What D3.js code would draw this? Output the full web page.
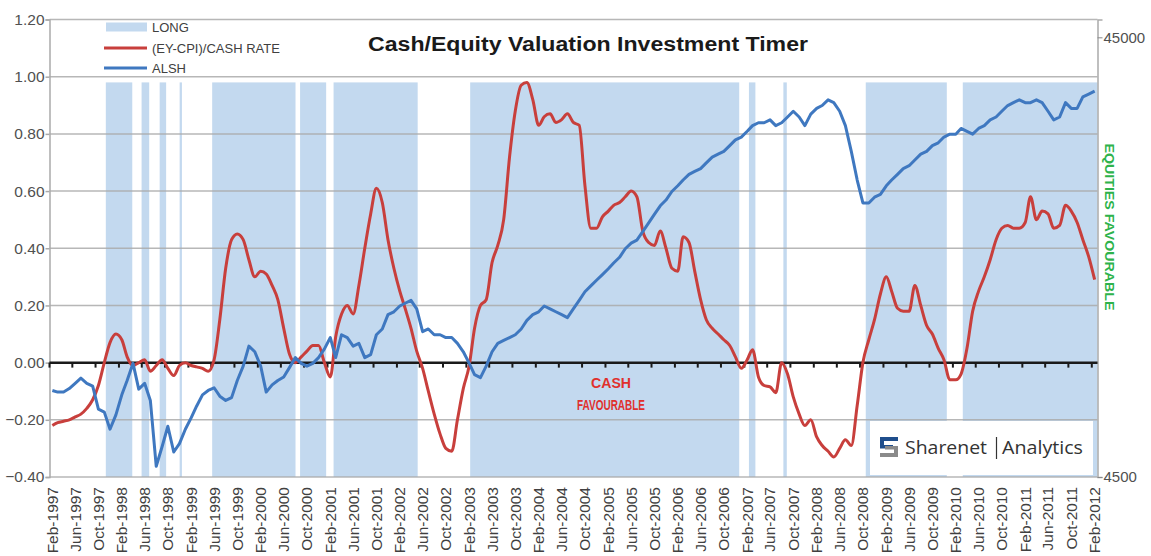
<!DOCTYPE html>
<html><head><meta charset="utf-8">
<script src="https://cdn.jsdelivr.net/npm/d3@7"></script>
<style>body{margin:0;background:#fff;} svg{display:block;}</style>
</head><body><svg id="c" width="1151" height="556"></svg>
<script>
// ---------- DATA ----------
const firstMonth = "1997-02-01";
const lastMonth = "2012-02-01";
const tickLabels = ["Feb-1997","Jun-1997","Oct-1997","Feb-1998","Jun-1998","Oct-1998","Feb-1999","Jun-1999","Oct-1999","Feb-2000","Jun-2000","Oct-2000","Feb-2001","Jun-2001","Oct-2001","Feb-2002","Jun-2002","Oct-2002","Feb-2003","Jun-2003","Oct-2003","Feb-2004","Jun-2004","Oct-2004","Feb-2005","Jun-2005","Oct-2005","Feb-2006","Jun-2006","Oct-2006","Feb-2007","Jun-2007","Oct-2007","Feb-2008","Jun-2008","Oct-2008","Feb-2009","Jun-2009","Oct-2009","Feb-2010","Jun-2010","Oct-2010","Feb-2011","Jun-2011","Oct-2011","Feb-2012"];
// (EY-CPI)/CASH RATE, monthly
const ratio = [
-0.22,-0.21,-0.205,-0.20,-0.19,-0.18,-0.16,-0.13,-0.08,0.0,
0.07,0.10,0.08,0.02,-0.01,0.0,0.01,-0.03,-0.01,0.01,
-0.02,-0.045,-0.01,0.0,-0.01,-0.015,-0.02,-0.03,0.01,0.15,
0.33,0.43,0.45,0.43,0.36,0.30,0.32,0.31,0.27,0.22,
0.12,0.03,0.0,0.02,0.04,0.06,0.06,0.0,-0.05,0.09,
0.17,0.20,0.17,0.27,0.40,0.52,0.61,0.56,0.43,0.33,
0.25,0.19,0.12,0.04,-0.02,-0.10,-0.18,-0.25,-0.30,-0.31,
-0.20,-0.09,-0.01,0.12,0.20,0.22,0.35,0.41,0.50,0.72,
0.88,0.97,0.98,0.92,0.83,0.86,0.87,0.84,0.85,0.87,
0.84,0.83,0.62,0.47,0.47,0.51,0.53,0.55,0.56,0.58,
0.60,0.58,0.46,0.42,0.41,0.46,0.40,0.33,0.32,0.44,
0.42,0.32,0.22,0.15,0.12,0.10,0.08,0.06,0.02,-0.02,
0.01,0.045,-0.05,-0.08,-0.085,-0.105,0.0,-0.04,-0.12,-0.18,
-0.22,-0.20,-0.26,-0.29,-0.31,-0.33,-0.30,-0.27,-0.29,-0.15,
0.0,0.08,0.15,0.24,0.30,0.25,0.19,0.18,0.18,0.27,
0.20,0.13,0.10,0.05,0.01,-0.06,-0.06,-0.04,0.05,0.18,
0.25,0.30,0.36,0.43,0.47,0.48,0.47,0.47,0.49,0.58,
0.50,0.53,0.52,0.47,0.48,0.55,0.53,0.49,0.43,0.37,
0.29];
// ALSH index, monthly
const alsh = [
7080,7020,7020,7150,7350,7550,7350,7240,6420,6320,
5780,6230,6920,7460,8160,7130,7350,6720,4760,5280,
5870,5130,5360,5780,6140,6520,6920,7080,7180,6870,
6720,6820,7460,8040,8930,8670,8040,7020,7290,7460,
7600,7980,8410,8160,8040,8160,8410,8800,9340,8410,
9480,9340,8930,9060,8410,8540,9480,9770,10530,10690,
11020,11180,11350,10850,9630,9770,9480,9480,9340,9340,
9060,8670,8160,7690,7570,8040,8670,9060,9200,9340,
9480,9770,10220,10530,10690,11020,10850,10690,10530,10370,
10850,11350,11870,12240,12610,12990,13390,13800,14220,14870,
15320,15560,16270,17020,17800,18620,19190,20070,20680,21310,
21960,22300,22630,23320,24030,24400,24760,25520,26300,26690,
27510,28340,28770,28770,29210,28340,28770,29650,30550,29650,
28340,30100,31010,31480,32440,31960,30550,28340,24760,21310,
18900,18900,19480,19770,20680,21310,21960,22630,22970,23670,
24400,24760,25520,25900,26690,27100,27100,27920,27510,27100,
27920,28340,29210,29650,30550,31480,31960,32440,31960,31960,
32440,31960,30550,29210,29650,31960,31010,31010,32930,33430,
33940];
// LONG periods (start, end)
const longStart = ["1997-11-09","1998-05-16","1998-08-19","1998-12-02","1999-05-22","2000-08-26","2001-02-18","2003-02-06","2007-02-10","2007-08-10","2008-10-16","2010-03-10"];
const longEnd   = ["1998-03-28","1998-06-25","1998-09-22","1998-12-14","2000-08-02","2001-01-10","2002-05-06","2006-12-21","2007-03-16","2007-08-28","2009-12-16","2012-02-20"];
const longLevel = 0.98;
const leftTicks = [1.2,1.0,0.8,0.6,0.4,0.2,0.0,-0.2,-0.4];
const rightTicks = [4500,45000];
const legendLabels = ["LONG","(EY-CPI)/CASH RATE","ALSH"];
const titleText = "Cash/Equity Valuation Investment Timer";

// ---------- LAYOUT ----------
const P = {l:49.5, r:1097.5, t:19.5, b:477};
const C = {shade:"#c3d9ef", red:"#c83f3c", blue:"#3f78c0", grid:"#aaaaaa", text:"#505050"};
const svg = d3.select("#c");
const parse = d3.timeParse("%Y-%m-%d");
const m0 = parse(firstMonth), m1 = parse(lastMonth);
const months = d3.timeMonth.range(m0, d3.timeMonth.offset(m1,1));
const x = d3.scaleTime().domain([d3.timeDay.offset(m0,-15), d3.timeDay.offset(m1,15)]).range([P.l,P.r]);
const y = d3.scaleLinear().domain([-0.4,1.2]).range([P.b,P.t]);
const y2 = d3.scaleLog().domain([4500,49400]).range([P.b,P.t]);

// shading
svg.append("g").selectAll("rect").data(longStart.map((s,i)=>[parse(s),parse(longEnd[i])])).join("rect")
  .attr("x",d=>x(d[0])).attr("width",d=>Math.min(x(d[1]),P.r)-x(d[0]))
  .attr("y",y(longLevel)).attr("height",y(-0.4)-y(longLevel)).attr("fill",C.shade);

// gridlines
svg.append("g").selectAll("line").data(leftTicks).join("line")
  .attr("x1",P.l).attr("x2",P.r).attr("y1",d=>y(d)).attr("y2",d=>y(d))
  .attr("stroke",C.grid).attr("stroke-width",1.5).attr("stroke-opacity",0.85);
// left axis
const gl = svg.append("g").attr("transform",`translate(${P.l},0)`)
  .call(d3.axisLeft(y).tickValues(leftTicks).tickFormat(d3.format(".2f")).tickSize(4));
gl.select(".domain").attr("stroke",C.grid).attr("stroke-width",1.5);
gl.selectAll(".tick line").attr("stroke",C.grid).attr("stroke-width",1.5);
gl.selectAll("text").attr("font-family","Liberation Sans, Arial, sans-serif").attr("font-size",15.5).attr("fill",C.text).attr("x",-5);
// right border + right axis
const gr = svg.append("g").attr("transform",`translate(${P.r},0)`)
  .call(d3.axisRight(y2).tickValues(rightTicks).tickFormat(d3.format("d")).tickSize(5));
gr.select(".domain").attr("stroke",C.grid).attr("stroke-width",1.5);
gr.selectAll(".tick line").attr("stroke","#888");
gr.selectAll("text").attr("font-family","Liberation Sans, Arial, sans-serif").attr("font-size",15).attr("fill",C.text).attr("x",6);

// zero axis with month ticks
const tickDates = tickLabels.map(d3.timeParse("%b-%Y"));
const y0 = y(0);
svg.append("line").attr("x1",P.l).attr("x2",P.r).attr("y1",y0).attr("y2",y0).attr("stroke","#1a1a1a").attr("stroke-width",2.5);
svg.append("g").selectAll("line").data(tickDates).join("line")
  .attr("x1",d=>x(d3.timeDay.offset(d,-15))).attr("x2",d=>x(d3.timeDay.offset(d,-15)))
  .attr("y1",y0).attr("y2",y0+5).attr("stroke","#1a1a1a").attr("stroke-width",2);
// month labels at bottom
svg.append("g").selectAll("text").data(tickDates).join("text")
  .attr("transform",d=>`translate(${x(d)},487) rotate(-90)`)
  .attr("text-anchor","end").attr("dy","0.35em")
  .attr("font-family","Liberation Sans, Arial, sans-serif").attr("font-size",15.5).attr("fill","#404040")
  .text((d,i)=>tickLabels[i]);

// series
const redData = months.map((d,i)=>({d, v:ratio[i]}));
const blueData = months.map((d,i)=>({d, v:alsh[i]}));
svg.append("path").datum(redData).attr("fill","none").attr("stroke",C.red).attr("stroke-width",3).attr("stroke-linejoin","round")
  .attr("d",d3.line().x(p=>x(p.d)).y(p=>y(p.v)).curve(d3.curveMonotoneX));
svg.append("path").datum(blueData).attr("fill","none").attr("stroke",C.blue).attr("stroke-width",3).attr("stroke-linejoin","round")
  .attr("d",d3.line().x(p=>x(p.d)).y(p=>y2(p.v)));

// title
svg.append("text").attr("x",588).attr("y",51).attr("text-anchor","middle")
  .attr("font-family","Liberation Sans, Arial, sans-serif").attr("font-weight","bold").attr("font-size",20)
  .attr("fill","#1a1a1a").attr("textLength",440).attr("lengthAdjust","spacingAndGlyphs").text(titleText);

// legend
const lg = svg.append("g").attr("font-family","Liberation Sans, Arial, sans-serif").attr("font-size",13).attr("fill","#404040");
const legY = [27,48,68];
lg.append("rect").attr("x",106).attr("y",legY[0]-4.5).attr("width",41).attr("height",9).attr("fill",C.shade);
lg.append("line").attr("x1",104).attr("x2",147).attr("y1",legY[1]).attr("y2",legY[1]).attr("stroke",C.red).attr("stroke-width",3);
lg.append("line").attr("x1",104).attr("x2",147).attr("y1",legY[2]).attr("y2",legY[2]).attr("stroke",C.blue).attr("stroke-width",3);
lg.selectAll("text").data(legendLabels).join("text").attr("x",152).attr("y",(d,i)=>legY[i]).attr("dy","0.36em").text(d=>d);

// annotations
const ann = svg.append("g").attr("font-family","Liberation Sans Narrow, Arial Narrow, Liberation Sans, sans-serif").attr("font-weight","bold");
ann.append("text").attr("x",611).attr("y",383).attr("dy","0.36em").attr("text-anchor","middle").attr("font-size",14).attr("fill","#e0302c")
  .attr("textLength",40).attr("lengthAdjust","spacingAndGlyphs").text("CASH");
ann.append("text").attr("x",611).attr("y",405).attr("dy","0.36em").attr("text-anchor","middle").attr("font-size",14).attr("fill","#e0302c")
  .attr("textLength",68).attr("lengthAdjust","spacingAndGlyphs").text("FAVOURABLE");
ann.append("text").attr("transform","translate(1110,227) rotate(90)").attr("text-anchor","middle").attr("dy","0.36em")
  .attr("font-size",13).attr("fill","#2eb34b").attr("textLength",167).attr("lengthAdjust","spacingAndGlyphs").text("EQUITIES  FAVOURABLE");

// Sharenet badge
const sb = svg.append("g");
sb.append("rect").attr("x",870).attr("y",421).attr("width",223).attr("height",54).attr("fill","#fff");
const ic = sb.append("g").attr("transform","translate(880,437)");
ic.append("path").attr("d","M0,0 H18 V4 H4 V8 H13 V11.5 H0 Z").attr("fill","#1f4e8c");
ic.append("path").attr("d","M5,9 H18 V20 H0 V16 H14 V12.5 H5 Z").attr("fill","#8a8a8a");
sb.append("text").attr("x",905).attr("y",448).attr("dy","0.36em").attr("font-family","Open Sans, sans-serif").attr("font-size",18).attr("fill","#333")
  .attr("textLength",82).attr("lengthAdjust","spacingAndGlyphs").text("Sharenet");
sb.append("line").attr("x1",996.5).attr("x2",996.5).attr("y1",437).attr("y2",459).attr("stroke","#333").attr("stroke-width",1.2);
sb.append("text").attr("x",1002).attr("y",448).attr("dy","0.36em").attr("font-family","Open Sans, sans-serif").attr("font-size",18).attr("fill","#333")
  .attr("textLength",81).attr("lengthAdjust","spacingAndGlyphs").text("Analytics");
</script></body></html>
